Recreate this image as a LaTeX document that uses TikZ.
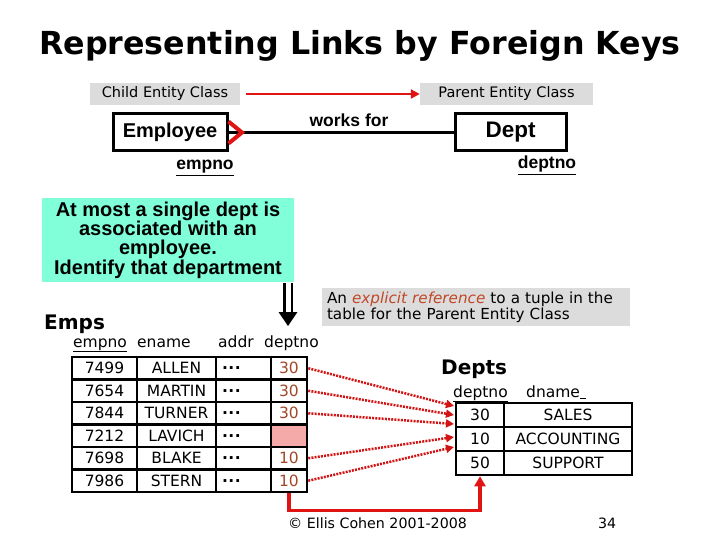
\documentclass[tikz,border=0pt]{standalone}
\usepackage{fontspec}
\setmainfont{Liberation Sans}
\newfontfamily\dv{DejaVu Sans}
\usetikzlibrary{arrows.meta,calc}
\definecolor{lgray}{RGB}{220,220,220}
\definecolor{aquac}{RGB}{128,255,216}
\definecolor{fkred}{RGB}{225,20,20}
\definecolor{dotred}{RGB}{210,20,20}
\definecolor{numc}{RGB}{160,72,40}
\definecolor{pinkc}{RGB}{245,170,170}
\definecolor{refc}{RGB}{192,72,40}
\newcommand{\fsz}[2]{\fontsize{#1}{#2}\selectfont}
\begin{document}
\begin{tikzpicture}[x=1pt,y=-1pt,
  graybox/.style={fill=lgray, inner sep=0, font=\dv\fsz{14.5}{16}},
  entbox/.style={draw, line width=3pt, inner sep=0, minimum height=37pt, font=\bfseries\fsz{20}{22}},
  cell/.style={draw, line width=2.5pt, inner sep=0, minimum height=22.5pt, font=\dv\fsz{15.5}{17}},
  dcell/.style={cell, minimum height=24pt},
  hdr/.style={inner sep=0, anchor=base west, font=\dv\fsz{15.5}{17}},
  fkdot/.style={dotred, line width=2.5pt, dash pattern=on 2pt off 1.2pt, -{Triangle[length=8pt,width=8pt]}},
  fkarrow/.style={fkred, line width=3.5pt, -{Triangle[length=10pt,width=11pt]}}
]
\useasboundingbox (0,0) rectangle (720,540);

% title
\node[font=\dv\bfseries\fsz{31.7}{33}, inner sep=0, anchor=base] (title) at (360,55) {Representing Links by Foreign Keys};

% entity class labels
\node[graybox, minimum width=150pt, minimum height=22pt] (child) at (165,94) {Child Entity Class};
\node[graybox, minimum width=173pt, minimum height=22pt] (parent) at (506.5,94) {Parent Entity Class};
\coordinate (ca) at (246,94);
\draw[fkred, line width=2.5pt, -{Triangle[length=9pt,width=9pt]}] (ca) -- (parent.west);

% ER diagram
\node[entbox, minimum width=114pt] (emp) at (170,132.5) {Employee};
\node[entbox, minimum width=111pt, font=\bfseries\fsz{22.5}{24}] (dept) at (510.5,132.5) {Dept};
\draw[line width=2.5pt] (emp.east) -- (dept.west);
\coordinate (cf) at (242,132.5);
\draw[fkred, line width=4pt] ($(emp.east)+(0,-11)$) -- (cf) -- ($(emp.east)+(0,11)$);
\node[inner sep=0, anchor=base, font=\bfseries\fsz{17.5}{19}] (wf) at (349,127) {works for};
\node[inner sep=0, anchor=base, font=\bfseries\fsz{17.5}{19}] (ek) at (205,170) {\underline{empno}};
\node[inner sep=0, anchor=base, font=\bfseries\fsz{17.5}{19}] (dk) at (547,169) {\underline{deptno}};

% note box
\node[fill=aquac, minimum width=252pt, minimum height=84pt, inner sep=0, align=center,
      font=\bfseries\fsz{20}{19.3}] (note) at (168,240) {At most a single dept is\\associated with an\\employee.\\Identify that department};

% double arrow
\coordinate (da) at (288,283);
\coordinate (db) at (288,326);
\draw[line width=2.5pt, double=white, double distance=5pt, shorten >=12pt] (da) -- (db);
\fill (db) -- ++(-9.5,-14) -- ++(19,0) -- cycle;

% reference box
\node[fill=lgray, minimum width=308pt, minimum height=38pt, inner sep=0, text width=298pt, align=left,
      font=\dv\fsz{15.2}{14}] (ref) at (476,307) {An \textcolor{refc}{\itshape explicit reference} to a tuple in the\\table for the Parent Entity Class};

% Emps table
\node[inner sep=0, anchor=base west, font=\dv\bfseries\fsz{20}{22}] (emps) at (44,329) {Emps};
\node[hdr] (h1) at (73,347) {\underline{empno}};
\node[hdr] (h2) at (137,347) {ename};
\node[hdr] (h3) at (218,347) {addr};
\node[hdr] (h4) at (264,347) {deptno};

\foreach \i/\no/\nm in {1/7499/ALLEN,2/7654/MARTIN,3/7844/TURNER,4/7212/LAVICH,5/7698/BLAKE,6/7986/STERN}{
  \pgfmathsetmacro\yy{345.75+22.5*\i}
  \node[cell, minimum width=65pt] (eno\i) at (104.5,\yy) {\no};
  \node[cell, minimum width=79pt] (enm\i) at (176.5,\yy) {\nm};
  \node[cell, minimum width=55pt, text width=43pt, align=left] (ead\i) at (243.5,\yy) {\textbf{.\kern0.5pt.\kern0.5pt.}};
}
\node[cell, minimum width=36pt, text=numc] (edp1) at (289,368.25) {30};
\node[cell, minimum width=36pt, text=numc] (edp2) at (289,390.75) {30};
\node[cell, minimum width=36pt, text=numc] (edp3) at (289,413.25) {30};
\node[cell, minimum width=36pt, fill=pinkc] (edp4) at (289,435.75) {};
\node[cell, minimum width=36pt, text=numc] (edp5) at (289,458.25) {10};
\node[cell, minimum width=36pt, text=numc] (edp6) at (289,480.75) {10};

% Depts table
\node[inner sep=0, anchor=base west, font=\dv\bfseries\fsz{20}{22}] (depts) at (441,374) {Depts};
\node[hdr] (g1) at (453,397) {\underline{deptno}};
\node[hdr] (g2) at (526,397) {dname\underline{\hspace{6pt}}};
\node[dcell, minimum width=48pt] (dno1) at (480,415) {30};
\node[dcell, minimum width=128pt] (dnm1) at (568,415) {SALES};
\node[dcell, minimum width=48pt] (dno2) at (480,439) {10};
\node[dcell, minimum width=128pt] (dnm2) at (568,439) {ACCOUNTING};
\node[dcell, minimum width=48pt] (dno3) at (480,463) {50};
\node[dcell, minimum width=128pt] (dnm3) at (568,463) {SUPPORT};

% foreign key references
\coordinate (t1) at (454,406);
\coordinate (t2) at (454,415);
\coordinate (t3) at (454,424);
\coordinate (t4) at (454,437);
\coordinate (t5) at (454,447);
\draw[fkdot] (edp1.east) -- (t1);
\draw[fkdot] (edp2.east) -- (t2);
\draw[fkdot] (edp3.east) -- (t3);
\draw[fkdot] (edp5.east) -- (t4);
\draw[fkdot] (edp6.east) -- (t5);
\draw[fkarrow] (edp6.south) -- ++(0,17) -| (dno3.south);

% footer
\node[inner sep=0, anchor=base west, font=\dv\fsz{14.2}{15}] (copy) at (288,528) {\textcopyright{} Ellis Cohen 2001-2008};
\node[inner sep=0, anchor=base west, font=\dv\fsz{14.2}{15}] (pg) at (598,528) {34};
\end{tikzpicture}
\end{document}
